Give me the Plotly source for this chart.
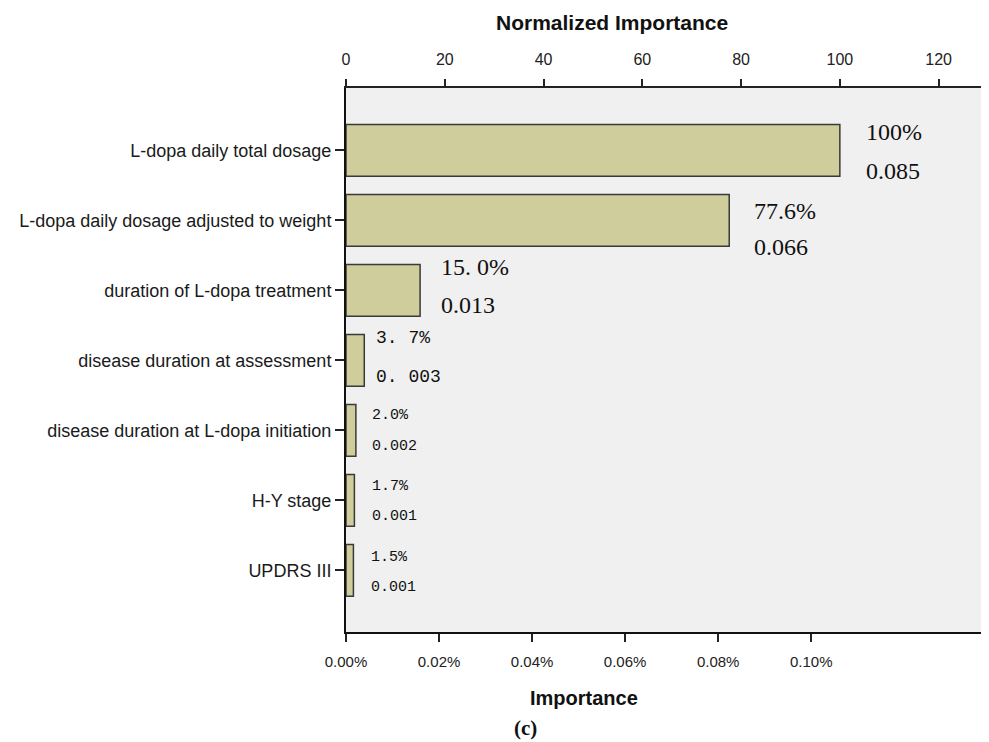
import plotly.graph_objects as go

# ---------------- data ----------------
categories = [
    "L-dopa daily total dosage",
    "L-dopa daily dosage adjusted to weight",
    "duration of L-dopa treatment",
    "disease duration at assessment",
    "disease duration at L-dopa initiation",
    "H-Y stage",
    "UPDRS III",
]
normalized_importance = [100, 77.6, 15.0, 3.7, 2.0, 1.7, 1.5]
importance = [0.085, 0.066, 0.013, 0.003, 0.002, 0.001, 0.001]
pct_labels = ["100%", "77.6%", "15. 0%", "3. 7%", "2.0%", "1.7%", "1.5%"]
value_labels = ["0.085", "0.066", "0.013", "0. 003", "0.002", "0.001", "0.001"]

top_ticks = [0, 20, 40, 60, 80, 100, 120]
bottom_tickvals = [0.0, 0.02, 0.04, 0.06, 0.08, 0.10]
bottom_ticktext = ["0.00%", "0.02%", "0.04%", "0.06%", "0.08%", "0.10%"]

# ---------------- label styling (per bar) ----------------
label_fonts = [
    dict(family="Liberation Serif", size=24, color="#111"),
    dict(family="Liberation Serif", size=24, color="#111"),
    dict(family="Liberation Serif", size=24, color="#111"),
    dict(family="Liberation Mono", size=18, color="#111"),
    dict(family="Liberation Mono", size=15, color="#111"),
    dict(family="Liberation Mono", size=15, color="#111"),
    dict(family="Liberation Mono", size=15, color="#111"),
]
pct_yshift = [18, 9, 23, 22, 15, 14, 13]
val_yshift = [-21, -27, -15, -17, -16, -16, -17]
label_xshift = [24, 23, 19, 10, 14, 16, 16]

# page body has an 8px margin: figure is sized/positioned to fill the window
PAGE_OFF = 8
FIG_W, FIG_H = 989 - PAGE_OFF, 742 - PAGE_OFF
PLOT_L, PLOT_R, PLOT_T, PLOT_B = 346, 988, 88, 632  # window pixels


def px_to_paper_x(px):
    return (px - PLOT_L) / (PLOT_R - PLOT_L)


def px_to_paper_y(py):
    return (PLOT_B - py) / (PLOT_B - PLOT_T)


fig = go.Figure()

# bars drawn on the (top) normalized-importance axis
fig.add_trace(go.Bar(
    x=normalized_importance,
    y=categories,
    orientation="h",
    xaxis="x2",
    yaxis="y",
    width=0.74,
    marker=dict(color="#cfcd9b", line=dict(color="#3a3a3a", width=1.5)),
    showlegend=False,
    hoverinfo="x+y",
))

# invisible trace anchoring the bottom importance axis
fig.add_trace(go.Scatter(
    x=importance,
    y=categories,
    xaxis="x",
    yaxis="y",
    mode="markers",
    marker=dict(opacity=0),
    showlegend=False,
    hoverinfo="skip",
))

annotations = []
for i, cat in enumerate(categories):
    annotations.append(dict(
        x=normalized_importance[i], y=cat, xref="x2", yref="y",
        text=pct_labels[i], showarrow=False, xanchor="left", yanchor="middle",
        xshift=label_xshift[i], yshift=pct_yshift[i], font=label_fonts[i],
    ))
    annotations.append(dict(
        x=normalized_importance[i], y=cat, xref="x2", yref="y",
        text=value_labels[i], showarrow=False, xanchor="left", yanchor="middle",
        xshift=label_xshift[i], yshift=val_yshift[i], font=label_fonts[i],
    ))

# titles
annotations.append(dict(
    text="<b>Normalized Importance</b>", xref="paper", yref="paper",
    x=px_to_paper_x(612), y=px_to_paper_y(22), showarrow=False,
    xanchor="center", yanchor="middle",
    font=dict(family="Liberation Sans", size=21, color="#111"),
))
annotations.append(dict(
    text="<b>Importance</b>", xref="paper", yref="paper",
    x=px_to_paper_x(584), y=px_to_paper_y(698), showarrow=False,
    xanchor="center", yanchor="middle",
    font=dict(family="Liberation Sans", size=20, color="#111"),
))
annotations.append(dict(
    text="<b>(c)</b>", xref="paper", yref="paper",
    x=px_to_paper_x(525), y=px_to_paper_y(728), showarrow=False,
    xanchor="center", yanchor="middle",
    font=dict(family="Liberation Serif", size=21, color="#111"),
))

fig.update_layout(
    width=FIG_W, height=FIG_H,
    margin=dict(l=PLOT_L - PAGE_OFF, r=FIG_W - (PLOT_R - PAGE_OFF),
                t=PLOT_T - PAGE_OFF, b=FIG_H - (PLOT_B - PAGE_OFF)),
    paper_bgcolor="white",
    plot_bgcolor="#f0f0f0",
    bargap=0.26,
    xaxis=dict(
        range=[0, 0.138],
        tickvals=bottom_tickvals, ticktext=bottom_ticktext,
        ticks="outside", ticklen=8, tickwidth=2, tickcolor="#222",
        showline=True, linecolor="#111", linewidth=2,
        showgrid=False, zeroline=False,
        ticklabelstandoff=7,
        tickfont=dict(family="Liberation Sans", size=15, color="#222"),
    ),
    xaxis2=dict(
        overlaying="x", side="top", anchor="y",
        range=[0, 130],
        tickvals=top_ticks,
        ticks="outside", ticklen=7, tickwidth=2, tickcolor="#222",
        showline=True, linecolor="#222", linewidth=2,
        showgrid=False, zeroline=False,
        ticklabelstandoff=8,
        tickfont=dict(family="Liberation Sans", size=16, color="#222"),
    ),
    yaxis=dict(
        categoryorder="array", categoryarray=categories,
        range=[6.88, -0.89],
        ticks="outside", ticklen=9, tickwidth=1.5, tickcolor="#222",
        showline=True, linecolor="#111", linewidth=2,
        showgrid=False, zeroline=False,
        ticklabelstandoff=0,
        tickfont=dict(family="Liberation Sans", size=18, color="#1a1a1a"),
    ),
    shapes=[dict(type="line", xref="paper", yref="paper", x0=1, x1=1, y0=0, y1=1,
                 line=dict(color="#9a9a9a", width=1))],
    annotations=annotations,
)

fig.write_html("out.html")
